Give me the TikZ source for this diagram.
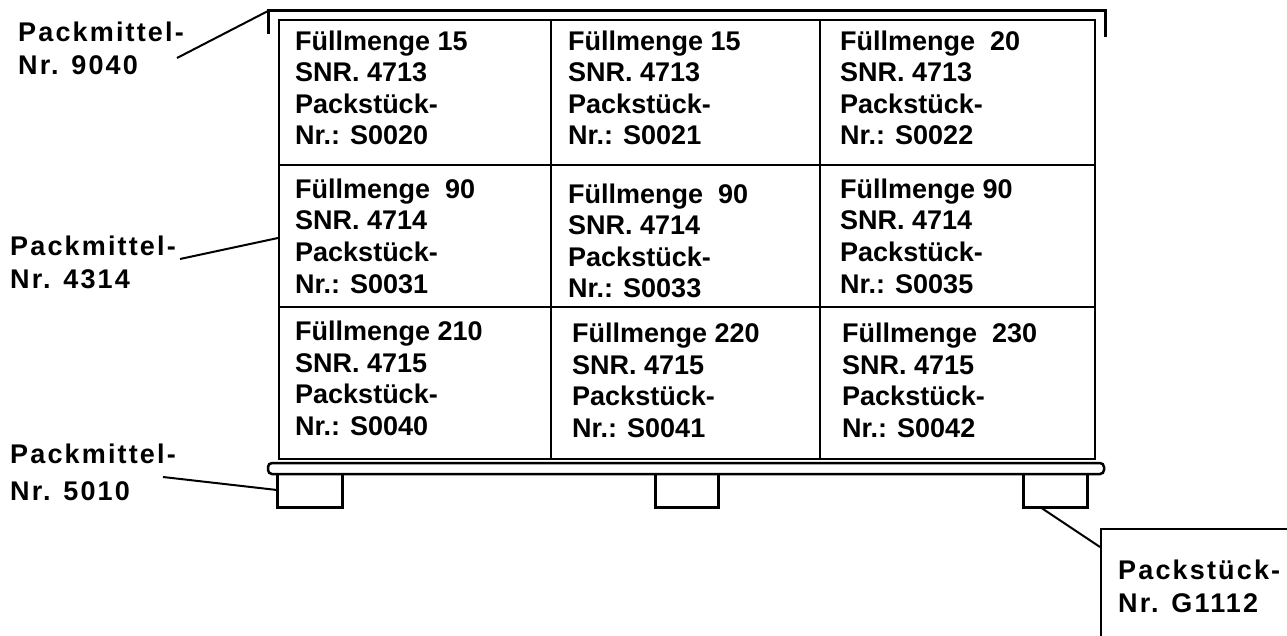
\documentclass[tikz,border=0pt]{standalone}
\usepackage{fontspec}
\setmainfont{Liberation Sans}
\newfontfamily\lblfont{Liberation Sans}[LetterSpace=8]
\begin{document}
\begin{tikzpicture}[x=1pt,y=-1pt,
  cell/.style={anchor=base west, align=left, inner sep=0pt, font=\bfseries\fontsize{27}{31.5}\selectfont},
  lbl/.style={anchor=base west, align=left, inner sep=0pt, font=\lblfont\bfseries\fontsize{27}{33}\selectfont},
  leader/.style={line width=2pt},
  gridline/.style={line width=2pt},
  heavy/.style={line width=3pt}]
\useasboundingbox (0,0) rectangle (1287,636);
\clip (0,0) rectangle (1287,636);
% grid
\node[draw, gridline, minimum width=816pt, minimum height=439pt, anchor=north west, inner sep=0pt] (grid) at (278,19) {};
\draw[gridline] (551,19) -- (551,458);
\draw[gridline] (820,19) -- (820,458);
\draw[gridline] (278,165) -- (1094,165);
\draw[gridline] (278,307) -- (1094,307);
% lid
\coordinate (lidL) at (268,11);
\coordinate (lidR) at (1105,11);
\draw[heavy] (268,34) -- (lidL) -- (lidR) -- (1105,37);
% pallet board
\draw[line width=2.5pt, rounded corners=4pt] (268,463) rectangle (1104,474);
% feet
\coordinate (footL) at (277,474);
\draw[heavy] (footL) -- (277,507) -- (342,507) -- (342,474);
\draw[heavy] (655,474) -- (655,507) -- (718,507) -- (718,474);
\coordinate (footR) at (1040,507);
\draw[heavy] (1023,474) -- (1023,507) -- (1087,507) -- (1087,474);
% cells (anchor = baseline of last line)
\node[cell] (c11) at (295,145) {Füllmenge 15\\SNR. 4713\\Packstück-\\Nr.: S0020};
\node[cell] (c12) at (568,145) {Füllmenge 15\\SNR. 4713\\Packstück-\\Nr.: S0021};
\node[cell] (c13) at (840,145) {Füllmenge\ \ 20\\SNR. 4713\\Packstück-\\Nr.: S0022};
\node[cell] (c21) at (295,293) {Füllmenge\ \ 90\\SNR. 4714\\Packstück-\\Nr.: S0031};
\node[cell] (c22) at (568,298) {Füllmenge\ \ 90\\SNR. 4714\\Packstück-\\Nr.: S0033};
\node[cell] (c23) at (840,293) {Füllmenge 90\\SNR. 4714\\Packstück-\\Nr.: S0035};
\node[cell] (c31) at (295,435) {Füllmenge 210\\SNR. 4715\\Packstück-\\Nr.: S0040};
\node[cell] (c32) at (572,437) {Füllmenge 220\\SNR. 4715\\Packstück-\\Nr.: S0041};
\node[cell] (c33) at (842,437) {Füllmenge\ \ 230\\SNR. 4715\\Packstück-\\Nr.: S0042};
% labels
\node[lbl] (l9040) at (18,75) {Packmittel-\\Nr. 9040};
\node[lbl] (l4314) at (10,288) {Packmittel-\\Nr. 4314};
\node[lbl] (l5010) at (10,500) {Packmittel-\\[4pt]Nr. 5010};
\coordinate (s9040) at (177,58);
\coordinate (s4314) at (180,259);
\coordinate (s5010) at (163,477);
\coordinate (gridL) at (278,238);
\coordinate (footLside) at (277,490);
\draw[leader] (s9040) -- (lidL);
\draw[leader] (s4314) -- (gridL);
\draw[leader] (s5010) -- (footLside);
% bottom right box
\node[draw, gridline, minimum width=240pt, minimum height=140pt, anchor=north west, inner sep=0pt] (boxG) at (1100,528) {};
\node[lbl] (tG) at (1118,612) {Packstück-\\Nr. G1112};
\coordinate (boxGin) at (1100,547);
\draw[leader] (footR) -- (boxGin);
\end{tikzpicture}
\end{document}
